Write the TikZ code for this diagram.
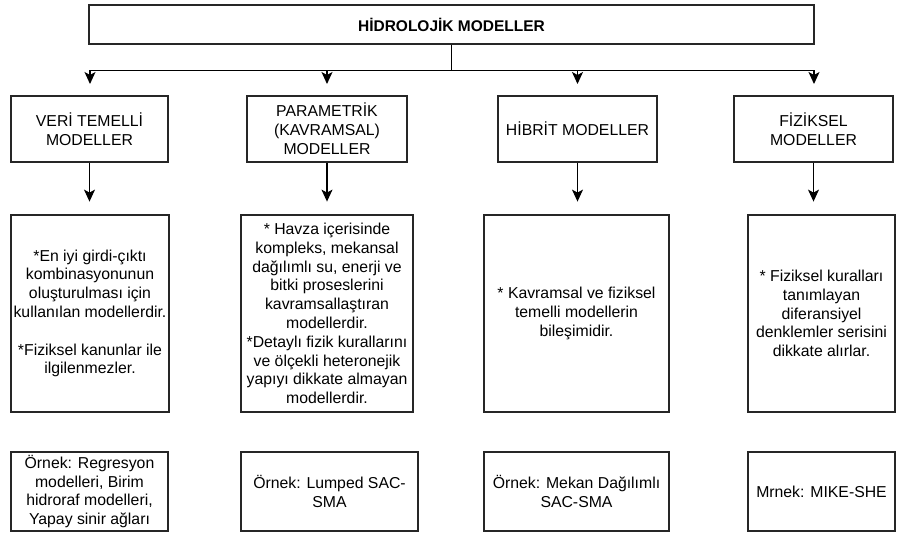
\documentclass[tikz,border=0pt]{standalone}
\usepackage{fontspec}
\setmainfont{Liberation Sans}
\usetikzlibrary{arrows.meta,calc}
\begin{document}
\begin{tikzpicture}[x=1pt,y=-1pt,
  box/.style={draw=black!85,line width=1.2pt,inner sep=0pt,align=center,
    font=\fontsize{15.8}{18.8}\selectfont},
  arr/.style={draw=black,line width=1.2pt,-{Stealth[width=11pt,length=12pt,inset=3pt]}},
  conn/.style={draw=black,line width=1.2pt}]
\useasboundingbox (0,0) rectangle (897,534);
% top
\node[box,minimum width=725pt,minimum height=39pt,font=\fontsize{15.5}{18.8}\selectfont\bfseries] (top) at (451.5,24.5) {HİDROLOJİK MODELLER};
% row 2
\node[box,minimum width=157pt,minimum height=66pt] (b1) at (89.5,129) {VERİ TEMELLİ\\MODELLER};
\node[box,minimum width=160pt,minimum height=66pt] (b2) at (327,129) {PARAMETRİK\\(KAVRAMSAL)\\MODELLER};
\node[box,minimum width=159pt,minimum height=66pt] (b3) at (577.5,129) {HİBRİT MODELLER};
\node[box,minimum width=159pt,minimum height=66pt] (b4) at (813.5,129) {FİZİKSEL\\MODELLER};
% row 3
\node[box,minimum width=158pt,minimum height=197pt] (c1) at (90,313.5) {*En iyi girdi-çıktı\\kombinasyonunun\\oluşturulması için\\kullanılan modellerdir.\\[18.8pt]{*}Fiziksel kanunlar ile\\ilgilenmezler.};
\node[box,minimum width=172pt,minimum height=197pt] (c2) at (327,313.5) {* Havza içerisinde\\kompleks, mekansal\\dağılımlı su, enerji ve\\bitki proseslerini\\kavramsallaştıran\\modellerdir.\\{*}Detaylı fizik kurallarını\\ve ölçekli heteronejik\\yapıyı dikkate almayan\\modellerdir.};
\node[box,minimum width=185pt,minimum height=197pt] (c3) at (576.5,313.5) {* Kavramsal ve fiziksel\\temelli modellerin\\bileşimidir.};
\node[box,minimum width=147pt,minimum height=197pt] (c4) at (821.5,313.5) {* Fiziksel kuralları\\tanımlayan\\diferansiyel\\denklemler serisini\\dikkate alırlar.};
% row 4
\node[box,minimum width=157pt,minimum height=79pt] (d1) at (89.5,491.5) {Örnek: Regresyon\\modelleri, Birim\\hidroraf modelleri,\\Yapay sinir ağları};
\node[box,minimum width=177pt,minimum height=79pt] (d2) at (329.5,491.5) {Örnek: Lumped SAC-\\SMA};
\node[box,minimum width=185pt,minimum height=79pt] (d3) at (576.5,491.5) {Örnek: Mekan Dağılımlı\\SAC-SMA};
\node[box,minimum width=147pt,minimum height=79pt] (d4) at (821.5,491.5) {Mrnek: MIKE-SHE};
% connectors
\coordinate (a1) at (90,84);
\coordinate (a2) at (327,84);
\coordinate (a3) at (577.5,84);
\coordinate (a4) at (814,84);
\foreach \i in {1,2,3,4}{
  \draw[arr] (top.south) -- ++(0,26) -| (a\i);
}
\foreach \i in {1,2,3,4}{
  \draw[arr] (b\i.south) -- ++(0,39);
}
\end{tikzpicture}
\end{document}
